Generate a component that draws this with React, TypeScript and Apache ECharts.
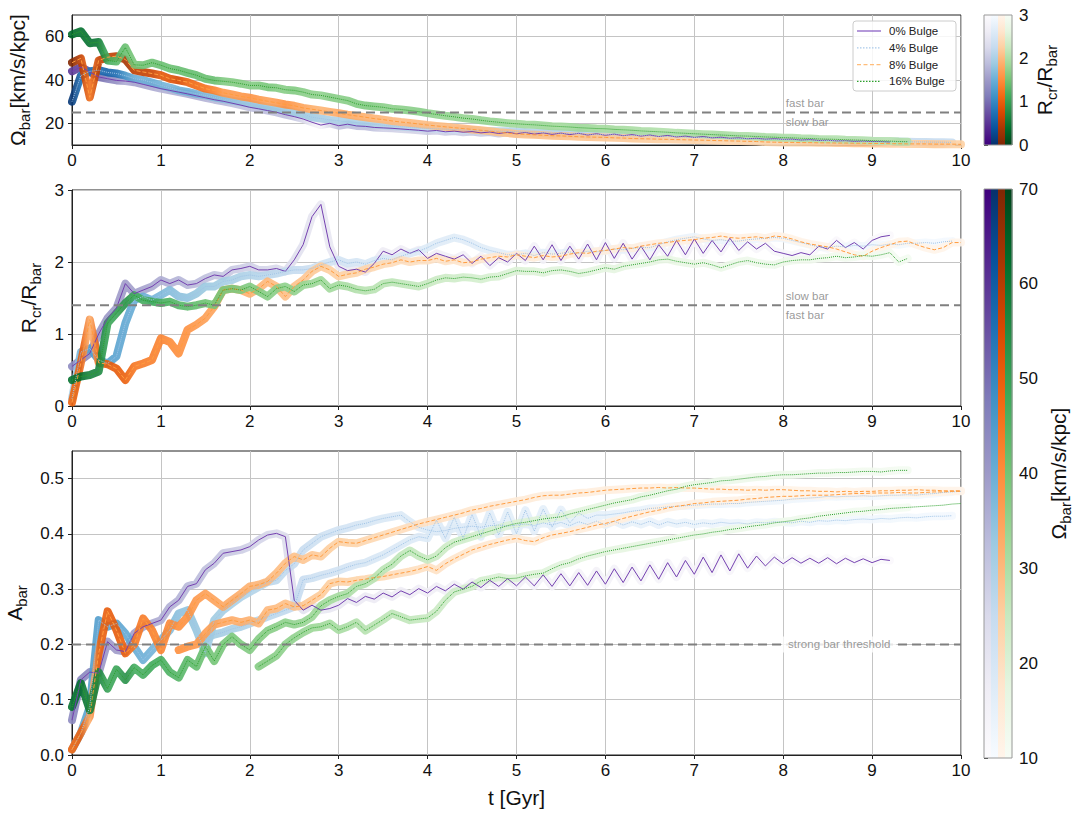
import React, { useEffect, useRef } from "react";
import * as echarts from "echarts";

// ---------------- data ----------------
// all runs are sampled every 0.1 Gyr starting at t = 0
const T_STEP = 0.1;
const SIM_NAMES = ["0% Bulge", "4% Bulge", "8% Bulge", "16% Bulge"];

// 0% bulge
const omegaP = [44,46,43.7,41.4,40.6,39.8,39.5,39.0,38.0,37.0,
36.0,35.2,34.4,33.6,32.7,31.8,30.9,30.2,29.3,28.4,
27.4,26.7,25.9,25.1,24.0,23.1,22.0,20.5,19.2,20.0,
18.9,19.6,18.8,18.6,18.1,17.9,17.7,17.4,17.1,16.8,
16.4,16.7,16.1,16.4,15.9,16.2,15.6,16.0,15.3,15.9,
15.2,15.8,15.0,15.6,14.9,15.5,14.8,15.4,14.6,15.2,
14.5,15.0,14.3,14.8,14.1,14.6,13.9,14.4,13.7,14.1,
13.5,13.9,13.3,13.6,13.1,13.3,12.9,13.1,12.7,12.9,
12.6,12.7,12.3,12.5,12.1,12.2,11.9,12.0,11.7,11.8,
11.6,11.6,11.4];
const rcrP = [0.55,0.64,0.73,1.0,1.22,1.36,1.70,1.56,1.61,1.66,
1.75,1.70,1.75,1.68,1.70,1.77,1.82,1.80,1.89,1.91,
1.94,1.89,1.89,1.91,1.87,2.03,2.24,2.63,2.80,2.21,
1.94,1.88,1.90,1.86,1.98,2.15,2.10,2.18,2.12,2.17,
2.05,2.12,2.08,2.04,2.10,1.98,2.08,1.95,2.06,2.00,
2.12,2.02,2.22,2.03,2.24,2.02,2.22,2.04,2.25,2.03,
2.27,2.05,2.26,2.04,2.22,2.03,2.24,2.08,2.30,2.10,
2.32,2.12,2.30,2.14,2.33,2.16,2.28,2.18,2.26,2.15,
2.12,2.09,2.13,2.10,2.22,2.18,2.30,2.20,2.27,2.18,
2.30,2.35,2.37];
const abarP = [0.063,0.136,0.150,0.148,0.205,0.190,0.187,0.220,0.232,0.238,
0.244,0.268,0.280,0.305,0.310,0.335,0.347,0.365,0.368,0.371,
0.377,0.389,0.398,0.401,0.395,0.280,0.262,0.271,0.262,0.265,
0.271,0.283,0.276,0.287,0.282,0.293,0.286,0.297,0.290,0.301,
0.293,0.305,0.297,0.309,0.300,0.313,0.303,0.316,0.305,0.319,
0.306,0.322,0.306,0.326,0.305,0.328,0.306,0.330,0.307,0.333,
0.309,0.337,0.312,0.340,0.315,0.344,0.318,0.348,0.322,0.352,
0.327,0.358,0.330,0.362,0.333,0.364,0.338,0.360,0.342,0.358,
0.346,0.357,0.347,0.356,0.347,0.357,0.346,0.356,0.348,0.355,
0.348,0.354,0.352];

// 4% bulge
const omegaB = [30,42,44,44.5,43.5,43,42,40.6,40,38.8,
37.5,36.5,35.2,34.5,33.6,32.9,32.0,31.2,30.5,29.8,
29.0,28.2,27.4,26.6,25.9,25.0,24.3,22.8,22.2,21.6,
21.2,20.7,20.3,19.9,19.5,19.1,18.8,18.5,18.2,17.9,
17.7,17.5,17.3,17.1,16.9,16.8,16.6,16.5,16.4,16.3,
16.2,16.0,15.9,15.7,15.6,15.5,15.3,15.2,15.0,14.9,
14.8,14.7,14.5,14.4,14.3,14.2,14.0,13.9,13.8,13.6,
13.5,13.4,13.3,13.2,13.1,13.0,12.9,12.8,12.7,12.6,
12.5,12.4,12.3,12.3,12.2,12.1,12.0,12.0,11.9,11.8,
11.8,11.7,11.6,11.6,11.5,11.4,11.4,11.3,11.3,11.2];
const rcrB = [0.10,0.75,0.80,0.64,0.59,0.69,1.15,1.47,1.52,1.47,
1.54,1.61,1.52,1.50,1.56,1.66,1.66,1.73,1.75,1.80,
1.82,1.80,1.82,1.84,1.87,1.89,1.89,1.91,1.96,2.00,
2.03,1.98,2.00,1.97,2.02,2.05,2.03,2.08,2.12,2.15,
2.20,2.26,2.30,2.34,2.31,2.26,2.20,2.16,2.13,2.10,
2.10,2.12,2.09,2.13,2.11,2.12,2.14,2.12,2.15,2.14,
2.16,2.18,2.17,2.19,2.20,2.20,2.24,2.28,2.31,2.33,
2.35,2.32,2.30,2.31,2.29,2.29,2.31,2.32,2.33,2.34,
2.33,2.30,2.27,2.24,2.21,2.20,2.22,2.21,2.23,2.22,
2.24,2.23,2.25,2.24,2.26,2.26,2.27,2.26,2.28,2.29];
const abarB = [0.010,0.040,0.087,0.244,0.232,0.238,0.220,0.196,0.172,0.190,
0.208,0.226,0.256,0.262,0.226,0.184,0.244,0.262,0.274,0.286,
0.295,0.304,0.313,0.316,0.334,0.346,0.371,0.383,0.395,0.401,
0.407,0.411,0.416,0.419,0.424,0.428,0.431,0.434,0.422,0.412,
0.407,0.404,0.406,0.410,0.412,0.414,0.412,0.415,0.416,0.414,
0.416,0.418,0.415,0.420,0.416,0.421,0.415,0.422,0.417,0.423,
0.416,0.423,0.416,0.422,0.417,0.423,0.416,0.422,0.418,0.421,
0.417,0.420,0.418,0.421,0.419,0.420,0.418,0.421,0.420,0.422,
0.421,0.420,0.423,0.421,0.424,0.423,0.425,0.424,0.426,0.427,
0.426,0.428,0.427,0.429,0.430,0.429,0.431,0.432,0.432,0.433];
const abarB2Start = 1.5;
const abarB2 = [0.210,0.218,0.222,0.228,0.232,0.238,0.244,0.250,0.256,0.262,
0.268,0.317,0.320,0.325,0.329,0.334,0.340,0.345,0.348,0.355,
0.362,0.371,0.380,0.389,0.395,0.392,0.425,0.392,0.430,0.392,
0.435,0.395,0.438,0.398,0.440,0.400,0.443,0.405,0.445,0.412,
0.444,0.420,0.438,0.428,0.434,0.434,0.436,0.438,0.441,0.443,
0.446,0.447,0.449,0.450,0.451,0.452,0.453,0.454,0.454,0.455,
0.455,0.457,0.458,0.459,0.460,0.461,0.463,0.464,0.465,0.466,
0.468,0.467,0.468,0.468,0.469,0.468,0.469,0.470,0.470,0.471,
0.470,0.472,0.473,0.475,0.476,0.477];

// 8% bulge
const omegaO = [48,50,32,49,50.5,51,49.5,44.5,43.7,43,
42.2,40.6,39.8,39,37.5,36,35.2,34.1,33.3,32.4,
31.8,30.9,30.2,29.5,28.7,28.1,27.1,26.5,25.9,25.3,
24.7,24.0,23.4,22.8,22.2,21.7,21.1,20.6,20.2,19.7,
19.2,18.8,18.4,18.0,17.6,17.2,16.8,16.4,15.9,15.5,
15.1,14.9,14.7,14.5,14.3,14.2,14.0,13.8,13.7,13.6,
13.5,13.3,13.2,13.0,12.9,12.8,12.7,12.6,12.5,12.4,
12.3,12.2,12.1,12.0,11.9,11.8,11.7,11.6,11.4,11.3,
11.2,11.2,11.1,11.1,11.0,11.0,10.9,10.9,10.8,10.8,
10.7,10.7,10.6,10.6,10.5,10.5,10.5,10.4,10.4,10.4,
10.3];
const rcrO = [0.05,0.60,1.20,0.60,0.58,0.52,0.36,0.55,0.59,0.64,
0.94,0.89,0.73,1.06,1.13,1.22,1.38,1.61,1.63,1.61,
1.56,1.63,1.73,1.66,1.52,1.66,1.75,1.87,1.94,1.89,
1.80,1.83,1.85,1.90,1.93,1.97,1.99,2.03,2.00,2.02,
2.02,2.05,2.01,2.03,1.99,2.00,2.04,2.06,2.08,2.07,
2.10,2.08,2.06,2.09,2.07,2.08,2.11,2.13,2.12,2.15,
2.16,2.18,2.20,2.19,2.22,2.24,2.26,2.27,2.29,2.30,
2.31,2.33,2.34,2.36,2.34,2.33,2.34,2.35,2.33,2.36,
2.35,2.32,2.28,2.25,2.23,2.21,2.18,2.14,2.10,2.08,
2.15,2.20,2.24,2.28,2.29,2.24,2.20,2.17,2.20,2.27,
2.27];
const abarO = [0.010,0.040,0.070,0.184,0.260,0.226,0.184,0.200,0.247,0.226,
0.190,0.238,0.232,0.250,0.280,0.292,0.280,0.268,0.280,0.292,
0.305,0.308,0.314,0.329,0.347,0.359,0.353,0.362,0.359,0.374,
0.386,0.384,0.383,0.388,0.393,0.398,0.403,0.408,0.413,0.418,
0.422,0.426,0.430,0.434,0.438,0.443,0.446,0.450,0.453,0.456,
0.459,0.462,0.466,0.469,0.470,0.470,0.472,0.474,0.475,0.477,
0.479,0.480,0.481,0.482,0.483,0.483,0.484,0.483,0.484,0.483,
0.483,0.482,0.481,0.481,0.480,0.480,0.479,0.480,0.479,0.480,
0.480,0.479,0.478,0.478,0.477,0.477,0.476,0.477,0.476,0.477,
0.477,0.478,0.478,0.479,0.479,0.480,0.479,0.479,0.478,0.478,
0.478];
const abarO2Start = 1.2;
const abarO2 = [0.190,0.196,0.200,0.220,0.236,0.240,0.244,0.240,0.244,0.238,
0.262,0.265,0.274,0.268,0.270,0.280,0.290,0.310,0.314,0.313,
0.316,0.318,0.321,0.323,0.326,0.329,0.332,0.336,0.341,0.334,
0.346,0.355,0.363,0.371,0.376,0.381,0.385,0.389,0.392,0.388,
0.386,0.393,0.398,0.401,0.404,0.408,0.412,0.416,0.419,0.423,
0.428,0.432,0.436,0.440,0.443,0.447,0.450,0.452,0.455,0.456,
0.458,0.459,0.460,0.461,0.463,0.464,0.466,0.467,0.468,0.468,
0.469,0.470,0.470,0.470,0.471,0.472,0.473,0.473,0.474,0.474,
0.474,0.475,0.474,0.474,0.475,0.476,0.476,0.477,0.477];

// 16% bulge
const omegaG = [61,62.5,57,57.5,49,48.5,55,47,46.8,48,
46.8,45.3,44.5,43.3,42.2,40.6,39.8,39.4,39.0,38.3,
37.5,37.5,36.7,36.4,35.5,35.2,34.4,33.3,32.9,32.1,
31.3,30.5,29.0,28.2,27.8,27.4,26.7,26.4,25.9,25.4,
24.7,24.1,23.5,23.0,22.4,22.0,21.4,20.9,20.5,20.1,
19.8,19.5,19.3,19.0,18.7,18.5,18.3,18.0,17.8,17.6,
17.5,17.2,17.0,16.8,16.5,16.3,16.1,15.9,15.6,15.4,
15.2,15.0,14.8,14.6,14.4,14.2,14.1,13.9,13.7,13.6,
13.4,13.3,13.1,13.0,12.8,12.7,12.6,12.4,12.3,12.2,
12.0,11.9,11.8,11.6,11.5];
const rcrG = [0.36,0.41,0.43,0.48,1.15,1.29,1.43,1.54,1.47,1.45,
1.43,1.45,1.40,1.38,1.40,1.43,1.40,1.61,1.63,1.61,
1.66,1.59,1.52,1.63,1.66,1.59,1.68,1.70,1.75,1.63,
1.68,1.66,1.62,1.60,1.62,1.70,1.72,1.70,1.68,1.66,
1.70,1.75,1.78,1.77,1.79,1.78,1.76,1.79,1.80,1.84,
1.88,1.87,1.87,1.85,1.88,1.89,1.87,1.84,1.86,1.89,
1.92,1.90,1.94,1.96,1.98,2.00,2.03,2.04,2.01,1.99,
1.97,1.99,1.96,1.92,1.96,2.00,2.02,1.99,1.97,1.96,
2.00,2.02,2.03,2.03,2.05,2.06,2.08,2.06,2.07,2.09,
2.08,2.10,2.13,2.00,2.05];
const abarG = [0.087,0.130,0.081,0.150,0.120,0.155,0.136,0.158,0.145,0.162,
0.172,0.150,0.140,0.172,0.160,0.196,0.170,0.200,0.214,0.200,
0.190,0.210,0.225,0.232,0.240,0.236,0.240,0.250,0.270,0.280,
0.287,0.292,0.305,0.310,0.320,0.335,0.345,0.360,0.370,0.360,
0.353,0.360,0.375,0.385,0.390,0.395,0.400,0.405,0.410,0.415,
0.419,0.421,0.424,0.427,0.429,0.431,0.436,0.440,0.444,0.448,
0.452,0.456,0.459,0.462,0.467,0.470,0.474,0.478,0.481,0.486,
0.489,0.491,0.493,0.496,0.497,0.499,0.501,0.503,0.504,0.506,
0.507,0.507,0.508,0.509,0.510,0.510,0.511,0.511,0.512,0.513,
0.513,0.512,0.514,0.515,0.515];
const abarG2Start = 2.1;
const abarG2 = [0.160,0.170,0.180,0.200,0.212,0.222,0.230,0.232,0.238,0.226,
0.232,0.240,0.225,0.235,0.245,0.256,0.250,0.244,0.246,0.248,
0.260,0.280,0.295,0.300,0.305,0.315,0.318,0.322,0.319,0.320,
0.324,0.327,0.329,0.337,0.344,0.348,0.355,0.360,0.364,0.368,
0.371,0.374,0.377,0.380,0.383,0.386,0.389,0.392,0.395,0.398,
0.400,0.403,0.405,0.408,0.410,0.413,0.415,0.417,0.420,0.422,
0.424,0.427,0.429,0.432,0.434,0.436,0.438,0.440,0.441,0.443,
0.444,0.446,0.447,0.448,0.449,0.450,0.451,0.452,0.454,0.455];

const OMEGA = [omegaP, omegaB, omegaO, omegaG];
const RCR = [rcrP, rcrB, rcrO, rcrG];
const ABAR = [abarP, abarB, abarO, abarG];
const ABAR2: (number[] | null)[] = [null, abarB2, abarO2, abarG2];
const ABAR2_START = [0, abarB2Start, abarO2Start, abarG2Start];

// reference thresholds
const OMEGA_FAST_SLOW = 25;
const RCR_FAST_SLOW = 1.4;
const STRONG_BAR = 0.2;
const T_RANGE = [0, 10];
const T_LABEL_AT = 8.03;
const T_THRESH_LABEL_AT = 8.63;

// axis ranges / ticks
const OMEGA_RANGE = [10, 70];
const OMEGA_TICKS = [20, 40, 60];
const RCR_RANGE = [0, 3];
const ABAR_RANGE = [0, 0.55];
const ABAR_TICKS = [0, 0.1, 0.2, 0.3, 0.4, 0.5];

// ---------------- styles ----------------
const FONT = "'Liberation Sans', Arial, sans-serif";
const PURPLES = ["#fcfbfd","#efedf5","#dadaeb","#bcbddc","#9e9ac8","#807dba","#6a51a3","#54278f","#3f007d"];
const BLUES = ["#f7fbff","#deebf7","#c6dbef","#9ecae1","#6baed6","#4292c6","#2171b5","#08519c","#08306b"];
const ORANGES = ["#fff5eb","#fee6ce","#fdd0a2","#fdae6b","#fd8d3c","#f16913","#d94801","#a63603","#7f2704"];
const GREENS = ["#f7fcf5","#e5f5e0","#c7e9c0","#a1d99b","#74c476","#41ab5d","#238b45","#006d2c","#00441b"];
const CMAPS = [PURPLES, BLUES, ORANGES, GREENS];
const LINE_COLORS = ["#7440b0", "#9fc3e6", "#ff9c3f", "#2ca02c"];
const LEGEND_COLORS = ["#8256c0", "#a9c9ea", "#ffbd7a", "#2ca02c"];
const LINE_TYPES: any[] = ["solid", "dotted", "dashed", "dotted"];
const LEGEND_DASH: any[] = [null, [1.5, 1.5], [4, 2.5], [1.5, 1.5]];
const REF_COLOR = "#808080";
const BAND_WIDTH = 8;

const GRIDS = [
  { left: 72, top: 15, width: 889, height: 130 },
  { left: 72, top: 190, width: 889, height: 216 },
  { left: 72, top: 451, width: 889, height: 304 },
];
const CBARS = [
  { left: 984, top: 15, width: 28, height: 130 },
  { left: 984, top: 189, width: 28, height: 569 },
];
const LEGEND_BOX = { x: 853, y: 21, w: 103, h: 70, rowH: 16.8, lineX0: 857, lineX1: 881, textX: 889 };

const RICH = {
  m: { fontSize: 21, fontFamily: FONT, color: "#111", lineHeight: 23, verticalAlign: "top" },
  s: { fontSize: 15, fontFamily: FONT, color: "#111", lineHeight: 35, verticalAlign: "middle" },
};

function tOf(i: number, start = 0) {
  return Math.round((start + i * T_STEP) * 100) / 100;
}
function hexToRgb(h: string) {
  const n = parseInt(h.slice(1), 16);
  return [(n >> 16) & 255, (n >> 8) & 255, n & 255];
}
function cmapColor(cm: string[], f: number) {
  const g = Math.max(0, Math.min(1, f));
  const x = g * (cm.length - 1);
  const i = Math.min(cm.length - 2, Math.floor(x));
  const u = x - i;
  const a = hexToRgb(cm[i]), b = hexToRgb(cm[i + 1]);
  const c = a.map((v, j) => Math.round(v + (b[j] - v) * u));
  return `rgb(${c[0]},${c[1]},${c[2]})`;
}

function buildOption() {
  const series: any[] = [];
  const visualMap: any[] = [];

  // thick band coloured along time by the other quantity
  const addBand = (k: number, gi: number, pts: number[][], cm: string[], cmin: number, cmax: number) => {
    const valid = pts.filter((p) => p[1] != null && p[2] != null);
    if (valid.length < 2) return;
    visualMap.push({
      type: "continuous", show: false, dimension: 0, seriesIndex: series.length,
      min: valid[0][0], max: valid[valid.length - 1][0],
      inRange: { color: valid.map((p) => cmapColor(cm, (p[2] - cmin) / (cmax - cmin))) },
      outOfRange: { color: "rgba(0,0,0,0)" },
    });
    series.push({
      type: "line", name: SIM_NAMES[k] + " band", xAxisIndex: gi, yAxisIndex: gi,
      data: valid.map((p) => [p[0], p[1]]), showSymbol: false, symbol: "none", silent: true, z: 2,
      lineStyle: { width: BAND_WIDTH, opacity: 0.9, cap: "round", join: "round" },
    });
  };
  const lineBase = (k: number) => ({
    type: "line",
    name: SIM_NAMES[k],
    showSymbol: false,
    symbol: "none",
    lineStyle: { color: LINE_COLORS[k], width: 1, type: LINE_TYPES[k] },
    itemStyle: { color: LINE_COLORS[k] },
    z: 3,
    silent: true,
  });

  for (let k = 0; k < 4; k++) {
    const om = OMEGA[k], rc = RCR[k], ab = ABAR[k];
    const cm = CMAPS[k];
    const cmRev = [...cm].reverse();
    addBand(k, 0, om.map((w, i) => [tOf(i), w, rc[i]]), cmRev, RCR_RANGE[0], RCR_RANGE[1]);
    addBand(k, 1, rc.map((r, i) => [tOf(i), r, om[i]]), cm, OMEGA_RANGE[0], OMEGA_RANGE[1]);
    addBand(k, 2, ab.map((a, i) => [tOf(i), a, om[i]]), cm, OMEGA_RANGE[0], OMEGA_RANGE[1]);
    const ab2 = ABAR2[k];
    if (ab2) {
      const s0 = ABAR2_START[k];
      const i0 = Math.round(s0 / T_STEP);
      addBand(k, 2, ab2.map((a, j) => [tOf(j, s0), a, om[i0 + j]]), cm, OMEGA_RANGE[0], OMEGA_RANGE[1]);
    }
  }
  for (let k = 0; k < 4; k++) {
    const om = OMEGA[k], rc = RCR[k], ab = ABAR[k];
    series.push({ ...lineBase(k), xAxisIndex: 0, yAxisIndex: 0, data: om.map((w, i) => [tOf(i), w]) });
    series.push({ ...lineBase(k), xAxisIndex: 1, yAxisIndex: 1, data: rc.map((r, i) => [tOf(i), r]) });
    series.push({ ...lineBase(k), xAxisIndex: 2, yAxisIndex: 2, data: ab.map((a, i) => [tOf(i), a]) });
    const ab2 = ABAR2[k];
    if (ab2) {
      const s0 = ABAR2_START[k];
      series.push({ ...lineBase(k), xAxisIndex: 2, yAxisIndex: 2, data: ab2.map((a, j) => [tOf(j, s0), a]) });
    }
  }

  // reference lines
  const refLine = (gi: number, y: number) => ({
    type: "line", xAxisIndex: gi, yAxisIndex: gi, symbol: "none", silent: true, z: 6,
    lineStyle: { color: REF_COLOR, width: 2, type: [9, 5] },
    data: [[T_RANGE[0], y], [T_RANGE[1], y]],
  });
  const refLabel = (gi: number, y: number, text: string, pos: string, extra: any = {}) => ({
    type: "scatter", xAxisIndex: gi, yAxisIndex: gi, symbolSize: 1, silent: true, z: 7,
    itemStyle: { color: "rgba(0,0,0,0)" },
    data: [[extra.t ?? T_LABEL_AT, y]],
    label: {
      show: true, formatter: text, position: pos, align: extra.align ?? "left", distance: 3,
      color: REF_COLOR, fontSize: 11.5, fontFamily: FONT, ...(extra.label || {}),
    },
  });
  series.push(refLine(0, OMEGA_FAST_SLOW));
  series.push(refLabel(0, OMEGA_FAST_SLOW, "fast bar", "top"));
  series.push(refLabel(0, OMEGA_FAST_SLOW, "slow bar", "bottom"));
  series.push(refLine(1, RCR_FAST_SLOW));
  series.push(refLabel(1, RCR_FAST_SLOW, "slow bar", "top"));
  series.push(refLabel(1, RCR_FAST_SLOW, "fast bar", "bottom"));
  series.push(refLine(2, STRONG_BAR));
  series.push(refLabel(2, STRONG_BAR, "strong bar threshold", "inside", {
    t: T_THRESH_LABEL_AT, align: "center",
    label: { backgroundColor: "#fff", padding: [2, 6] },
  }));

  const axisCommon = {
    axisLine: { show: true, onZero: false, lineStyle: { color: "#222" } },
    axisTick: { show: true, length: 4, lineStyle: { color: "#222" } },
    splitLine: { show: true, lineStyle: { color: "#c4c4c4", width: 1 } },
  };
  const labelStyle = { fontSize: 17, color: "#111", fontFamily: FONT };

  const xAxis: any[] = GRIDS.map((_, gi) => ({
    type: "value", gridIndex: gi, min: T_RANGE[0], max: T_RANGE[1], interval: 1,
    ...axisCommon,
    axisLabel: { ...labelStyle, margin: 7 },
    name: gi === 2 ? "t [Gyr]" : "",
    nameLocation: "middle", nameGap: 32,
    nameTextStyle: { fontSize: 21, fontFamily: FONT, color: "#111" },
  }));
  xAxis.push({ type: "value", gridIndex: 3, show: false, min: 0, max: 1 });
  xAxis.push({ type: "value", gridIndex: 4, show: false, min: 0, max: 1 });

  const yName = (text: string, gap: number) => ({
    name: text, nameLocation: "middle", nameGap: gap, nameRotate: 90,
    nameTextStyle: { rich: RICH },
  });

  const yAxis: any[] = [
    {
      type: "value", gridIndex: 0, min: OMEGA_RANGE[0], max: OMEGA_RANGE[1], ...axisCommon,
      axisTick: { ...axisCommon.axisTick, customValues: OMEGA_TICKS },
      axisLabel: { ...labelStyle, margin: 8, customValues: OMEGA_TICKS },
      ...yName("{m|Ω}{s|bar}{m|[km/s/kpc]}", 30),
    },
    {
      type: "value", gridIndex: 1, min: RCR_RANGE[0], max: RCR_RANGE[1], interval: 1, ...axisCommon,
      axisLabel: { ...labelStyle, margin: 8 },
      ...yName("{m|R}{s|cr}{m|/R}{s|bar}", 19),
    },
    {
      type: "value", gridIndex: 2, min: ABAR_RANGE[0], max: ABAR_RANGE[1], ...axisCommon,
      axisTick: { ...axisCommon.axisTick, customValues: ABAR_TICKS },
      axisLabel: { ...labelStyle, margin: 8, customValues: ABAR_TICKS, formatter: (v: number) => v.toFixed(1) },
      ...yName("{m|A}{s|bar}", 30),
    },
    {
      type: "value", gridIndex: 3, position: "right", min: RCR_RANGE[0], max: RCR_RANGE[1], interval: 1,
      axisLine: { show: false }, splitLine: { show: false },
      axisTick: { show: true, length: 4, lineStyle: { color: "#222" } },
      axisLabel: { ...labelStyle, margin: 7 },
      ...yName("{m|R}{s|cr}{m|/R}{s|bar}", 22),
    },
    {
      type: "value", gridIndex: 4, position: "right", min: OMEGA_RANGE[0], max: OMEGA_RANGE[1], interval: 10,
      axisLine: { show: false }, splitLine: { show: false },
      axisTick: { show: true, length: 4, lineStyle: { color: "#222" } },
      axisLabel: { ...labelStyle, margin: 7 },
      ...yName("{m|Ω}{s|bar}{m|[km/s/kpc]}", 36),
    },
  ];

  const grid = [
    ...GRIDS.map((g) => ({ ...g, show: true, borderColor: "#222", borderWidth: 1, backgroundColor: "transparent",
      containLabel: false, outerBoundsMode: "none" })),
    ...CBARS.map((g) => ({ ...g, show: false, containLabel: false, outerBoundsMode: "none" })),
  ];

  const graphic: any[] = [];
  CBARS.forEach((cb, ci) => {
    const w = cb.width / 4;
    CMAPS.forEach((cm, k) => {
      const stops = ci === 0 ? cm : [...cm].reverse();
      graphic.push({
        type: "rect", silent: true, z: 1,
        shape: { x: cb.left + k * w, y: cb.top, width: w + 0.5, height: cb.height },
        style: {
          fill: { type: "linear", x: 0, y: 0, x2: 0, y2: 1,
            colorStops: stops.map((c, i) => ({ offset: i / (stops.length - 1), color: c })) },
        },
      });
    });
    graphic.push({
      type: "rect", silent: true, z: 2,
      shape: { x: cb.left, y: cb.top, width: cb.width, height: cb.height },
      style: { fill: "none", stroke: "#999", lineWidth: 1 },
    });
  });

  // legend box (drawn by hand so the line samples carry the dash pattern only)
  const L = LEGEND_BOX;
  graphic.push({
    type: "rect", silent: true, z: 50,
    shape: { x: L.x, y: L.y, width: L.w, height: L.h, r: 3 },
    style: { fill: "rgba(255,255,255,0.85)", stroke: "#cccccc", lineWidth: 1 },
  });
  SIM_NAMES.forEach((name, k) => {
    const cy = L.y + 10 + k * L.rowH;
    graphic.push({
      type: "line", silent: true, z: 51,
      shape: { x1: L.lineX0, y1: cy, x2: L.lineX1, y2: cy },
      style: { stroke: LEGEND_COLORS[k], lineWidth: 1.2, lineDash: LEGEND_DASH[k] },
    });
    graphic.push({
      type: "text", silent: true, z: 51, x: L.textX, y: cy,
      style: { text: name, fill: "#222", fontSize: 11.5, fontFamily: FONT, verticalAlign: "middle", align: "left" },
    });
  });

  return {
    animation: false,
    backgroundColor: "#fff",
    textStyle: { fontFamily: FONT },
    grid, xAxis, yAxis, series, visualMap, graphic,
  };
}

export default function App() {
  const ref = useRef<HTMLDivElement>(null);
  useEffect(() => {
    if (!ref.current) return;
    const chart = echarts.init(ref.current, null, { renderer: "svg" });
    chart.setOption(buildOption() as any);
    return () => chart.dispose();
  }, []);
  return (
    <div
      ref={ref}
      style={{ position: "absolute", left: 0, top: 0, width: 1080, height: 816, background: "#fff" }}
    />
  );
}
